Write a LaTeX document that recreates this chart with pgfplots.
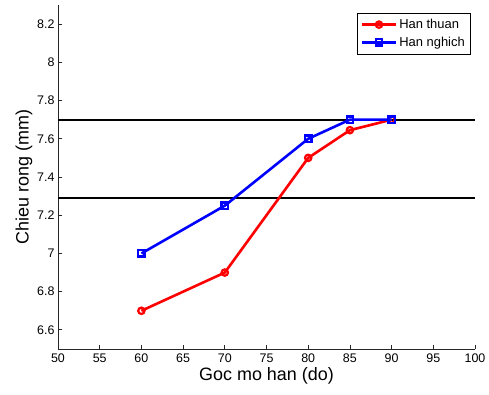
\documentclass[border=0pt]{standalone}
\usepackage{pgfplots}
\pgfplotsset{compat=1.18}
\usepackage{fontspec}
\setmainfont{Liberation Sans}
\begin{document}
\begin{tikzpicture}
\begin{axis}[
  scale only axis, width=417bp, height=344bp,
  xmin=50, xmax=100, ymin=6.5, ymax=8.3,
  xtick={50,55,60,65,70,75,80,85,90,95,100},
  ytick={6.6,6.8,7,7.2,7.4,7.6,7.8,8,8.2},
  yticklabels={6.6,6.8,7,7.2,7.4,7.6,7.8,8,8.2},
  axis x line*=bottom, axis y line*=left,
  axis line style={line width=0.8bp, black!85},
  tick style={line width=0.8bp, black!85},
  tick align=inside, major tick length=4bp,
  /pgf/number format/assume math mode=true,
  tick label style={font=\fontsize{12.5}{14}\selectfont},
  xticklabel style={yshift=-1bp},
  xlabel={Goc mo han (do)}, ylabel={Chieu rong (mm)},
  label style={font=\fontsize{18}{20}\selectfont},
  xlabel style={yshift=2bp},
  ylabel style={yshift=-2bp},
  legend style={at={(1,1)}, xshift=-5bp, yshift=-8bp, anchor=north east,
    font=\fontsize{13}{15}\selectfont, draw=black,
    row sep=3bp, inner xsep=3bp, inner ysep=4bp},
  legend cell align=left,
  legend image code/.code={\draw[mark repeat=2,mark phase=2,#1] plot coordinates {(0cm,0cm)(0.6cm,0cm)(1.2cm,0cm)};},
]
\addplot[black, line width=1.8bp, forget plot] coordinates {(50,7.7)(100,7.7)};
\addplot[black, line width=1.8bp, forget plot] coordinates {(50,7.29)(100,7.29)};
\addplot[red, line width=2.6bp, mark=o, mark size=3.2bp, mark options={line width=2.2bp, fill=white}]
  coordinates {(60,6.7)(70,6.9)(80,7.5)(85,7.645)(90,7.7)};
\addlegendentry{Han thuan}
\addplot[blue, line width=2.6bp, mark=square, mark size=3.2bp, mark options={line width=2.4bp, fill=white}]
  coordinates {(60,7.0)(70,7.25)(80,7.6)(85,7.7)(90,7.7)};
\addlegendentry{Han nghich}
\coordinate (A) at (rel axis cs:0,0);
\coordinate (B) at (rel axis cs:1,1);
\end{axis}
\pgfresetboundingbox
\path ([shift={(-58bp,-45bp)}]A) rectangle ([shift={(14bp,5bp)}]B);
\end{tikzpicture}
\end{document}
